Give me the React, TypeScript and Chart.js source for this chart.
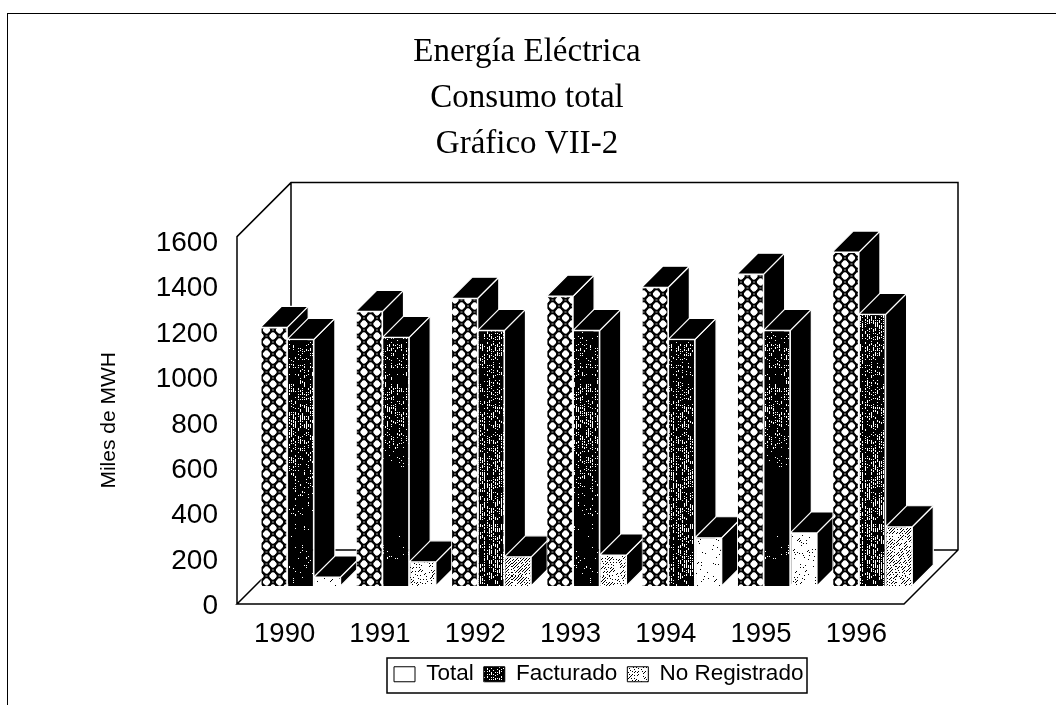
import React, { useEffect, useRef } from "react";
import { Chart, registerables } from "chart.js";

Chart.register(...registerables);

const years = ["1990", "1991", "1992", "1993", "1994", "1995", "1996"];
const total = [1126, 1196, 1253, 1262, 1301, 1358, 1454];
const facturado = [1074, 1083, 1113, 1113, 1074, 1113, 1183];
const noRegistrado = [39, 105, 127, 135, 210, 231, 258];
const yTicks = [0, 200, 400, 600, 800, 1000, 1200, 1400, 1600];
const facturadoInk = [0.8, 0.9, 0.55, 0.8, 0.6, 0.9, 0.55];
const noRegistradoInk = [0.05, 0.22, 0.5, 0.35, 0.06, 0.1, 0.4];

const DEPTH = 21;

function hash(a: number, b: number) {
  const v = Math.sin(a * 12.9898 + b * 78.233) * 43758.5453;
  return v - Math.floor(v);
}

function tile(w: number, h: number, draw: (c: CanvasRenderingContext2D) => void) {
  const cv = document.createElement("canvas");
  cv.width = w;
  cv.height = h;
  const c = cv.getContext("2d")!;
  c.fillStyle = "#fff";
  c.fillRect(0, 0, w, h);
  draw(c);
  return c.createPattern(cv, "repeat")!;
}

function chainPattern() {
  return tile(13, 12, (c) => {
    c.strokeStyle = "#000";
    c.lineWidth = 2.1;
    const pts = [[6.5, 6], [0, 0], [13, 0], [0, 12], [13, 12]];
    for (const [x, y] of pts) {
      c.beginPath();
      c.arc(x, y, 4.7, 0, Math.PI * 2);
      c.stroke();
    }
  });
}

function darkPattern(ink: number) {
  return tile(27, 280, (c) => {
    c.fillStyle = "#000";
    for (let x = 0; x < 27; x++) {
      for (let y = 0; y < 280; y++) {
        const band = 0.5 + 0.5 * Math.sin(y / 37 + ink * 9);
        const p = x % 2 === 0 ? 1 : ink * (0.55 + 0.65 * band);
        if (hash(x, y) < p || hash(Math.floor(x / 3), Math.floor(y / 4)) < ink * 0.45) {
          c.fillRect(x, y, 1, 1);
        }
      }
    }
  });
}

function hatchPattern(ink: number) {
  return tile(64, 64, (c) => {
    c.fillStyle = "#000";
    for (let x = 0; x < 64; x++) {
      for (let y = 0; y < 64; y++) {
        const onLine = (x + y) % 3 === 0;
        if (onLine && hash(x * 3, y * 7) < ink * 1.5) c.fillRect(x, y, 1, 1);
      }
    }
  });
}

const wallsAndDepth = {
  id: "wallsAndDepth",
  afterLayout(chart: any) {
    const t = chart.titleBlock;
    t.left = 0;
    t.right = 1054;
    const l = chart.legend;
    l.left = 384;
    l.right = 1000;
    l.width = 616;
    l.top = 653;
    l.bottom = 693;
  },
  beforeDatasetsDraw(chart: any) {
    const c: CanvasRenderingContext2D = chart.ctx;
    const { left, right, top, bottom } = chart.chartArea;
    const dx = 54;
    const dy = 54;
    c.save();
    c.strokeStyle = "#000";
    c.lineWidth = 1.5;
    c.beginPath();
    c.moveTo(left, bottom);
    c.lineTo(left, top);
    c.lineTo(left + dx, top - dy);
    c.lineTo(right + dx, top - dy);
    c.lineTo(right + dx, bottom - dy);
    c.lineTo(right, bottom);
    c.lineTo(left, bottom);
    c.lineTo(left + dx, bottom - dy);
    c.lineTo(left + dx, top - dy);
    c.moveTo(left + dx, bottom - dy);
    c.lineTo(right + dx, bottom - dy);
    c.stroke();

    c.lineWidth = 1.2;
    c.strokeStyle = "#fff";
    c.fillStyle = "#000";
    chart.data.datasets.forEach((_: any, di: number) => {
      for (const bar of chart.getDatasetMeta(di).data) {
        const x0 = bar.x - bar.width / 2;
        const x1 = bar.x + bar.width / 2;
        c.beginPath();
        c.moveTo(x1, bar.y);
        c.lineTo(x1 + DEPTH, bar.y - DEPTH);
        c.lineTo(x1 + DEPTH, bar.base - DEPTH);
        c.lineTo(x1, bar.base);
        c.closePath();
        c.fill();
        c.stroke();
        c.beginPath();
        c.moveTo(x0, bar.y);
        c.lineTo(x0 + DEPTH, bar.y - DEPTH);
        c.lineTo(x1 + DEPTH, bar.y - DEPTH);
        c.lineTo(x1, bar.y);
        c.closePath();
        c.fill();
        c.stroke();
      }
    });
    c.restore();
  },
  afterDraw(chart: any) {
    const c: CanvasRenderingContext2D = chart.ctx;
    c.save();
    c.strokeStyle = "#000";
    c.lineWidth = 1.5;
    c.strokeRect(387, 658, 420, 35);
    c.restore();
  },
};

export default function App() {
  const ref = useRef<HTMLCanvasElement>(null);
  useEffect(() => {
    const chain = chainPattern();
    const darks = facturadoInk.map(darkPattern);
    const hatches = noRegistradoInk.map(hatchPattern);
    const swatches = ["#fff", darkPattern(0.75), hatchPattern(0.3)];
    const common = {
      xAxisID: "xBars",
      yAxisID: "yBars",
      borderColor: "#fff",
      borderWidth: 1,
      categoryPercentage: 0.84,
      barPercentage: 1,
      clip: false,
    };
    const chart = new Chart(ref.current!, {
      type: "bar",
      data: {
        labels: years,
        datasets: [
          { ...common, label: "Total", data: total, backgroundColor: chain },
          { ...common, label: "Facturado", data: facturado, backgroundColor: darks },
          { ...common, label: "No Registrado", data: noRegistrado, backgroundColor: hatches },
        ],
      },
      options: {
        animation: false,
        responsive: false,
        layout: { padding: { left: 0, right: 152, top: 0, bottom: 0 } },
        plugins: {
          tooltip: { enabled: false },
          title: {
            display: true,
            text: ["Energía Eléctrica", "Consumo total", "Gráfico VII-2"],
            color: "#000",
            font: { family: "'Liberation Serif'", size: 33, weight: "normal", lineHeight: 1.38 },
            padding: { top: 30, bottom: 70 },
          },
          legend: {
            display: true,
            position: "bottom",
            align: "start",
            labels: {
              color: "#000",
              font: { family: "'Liberation Sans'", size: 22.5 },
              boxWidth: 21,
              boxHeight: 15,
              padding: 10,
              generateLabels: (ch: any) =>
                ch.data.datasets.map((d: any, i: number) => ({
                  text: d.label,
                  fillStyle: swatches[i],
                  strokeStyle: "#000",
                  lineWidth: 1,
                  datasetIndex: i,
                })),
            },
          },
        },
        scales: {
          x: {
            type: "category",
            grid: { display: false, drawTicks: false },
            border: { display: false },
            ticks: {
              color: "#000",
              padding: 14,
              maxRotation: 0,
              font: { family: "'Liberation Sans'", size: 27.5 },
            },
            afterFit: (s: any) => {
              s.height = 58.5;
            },
          },
          y: {
            type: "linear",
            min: 11,
            max: 1628.5,
            afterBuildTicks: (s: any) => {
              s.ticks = yTicks.map((value) => ({ value }));
            },
            grid: { display: false, drawTicks: false },
            border: { display: false },
            ticks: {
              color: "#000",
              padding: 19,
              callback: (v: any) => String(v),
              font: { family: "'Liberation Sans'", size: 28 },
            },
            title: {
              display: true,
              text: "Miles de MWH",
              color: "#000",
              font: { family: "'Liberation Sans'", size: 21 },
              padding: { top: 97, bottom: 0 },
            },
            afterFit: (s: any) => {
              s.width = 237;
            },
          },
          xBars: {
            type: "linear",
            display: false,
            min: 1989.333,
            max: 1996.333,
            offset: false,
          },
          yBars: {
            type: "linear",
            display: false,
            min: -78.5,
            max: 1521.5,
          },
        },
      } as any,
      plugins: [wallsAndDepth],
    });
    return () => chart.destroy();
  }, []);
  return (
    <div style={{ position: "absolute", left: 0, top: 0, width: 1056, height: 705, background: "#fff", overflow: "hidden" }}>
      <canvas ref={ref} width={1056} height={705} style={{ display: "block" }} />
      <div style={{ position: "absolute", left: 7, top: 13, right: 0, bottom: 0, borderTop: "1.5px solid #000", borderLeft: "1px solid #000" }} />
    </div>
  );
}
